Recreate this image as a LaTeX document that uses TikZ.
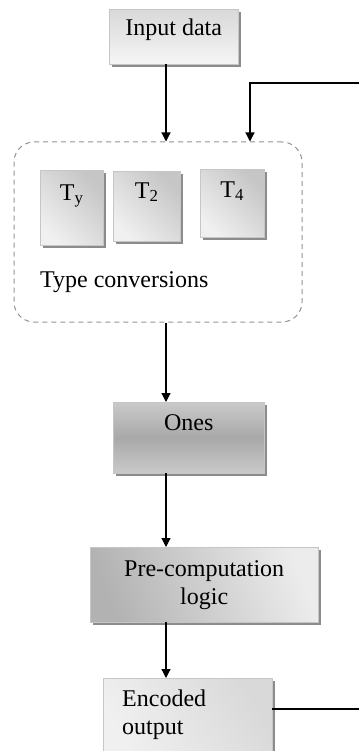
\documentclass[tikz,border=0pt]{standalone}
\usepackage{fontspec}
\setmainfont{Liberation Serif}
\usetikzlibrary{arrows.meta,shadows}
\tikzset{
  box/.style={draw=gray!45, line width=0.4pt, inner ysep=0pt, inner xsep=2pt,
    drop shadow={shadow xshift=2.5pt, shadow yshift=-2.5pt, fill=black!45, opacity=1}},
  arr/.style={line width=1.2pt, -{Triangle[width=9pt,length=9pt]}},
  plain/.style={line width=1.2pt},
  group/.style={draw=gray!85, dashed, dash pattern=on 5pt off 4pt, line width=1pt,
    rounded corners=20pt}
}
\begin{document}
\begin{tikzpicture}[x=1pt, y=-1pt, font=\fontsize{24}{28}\selectfont]
  \useasboundingbox (0,0) rectangle (359,751);
  \coordinate (spine) at (166,0);
  \coordinate (fb) at (250,83);
  \coordinate (edgetop) at (359,83);
  \coordinate (edgebot) at (359,709);

  \node (input) [box, anchor=north west, minimum width=129, text height=26, text depth=29,
    top color=gray!30, bottom color=gray!8] at (109,9) {Input data};

  \node (conv) [group, minimum width=288, minimum height=180] at (158,232) {};
  \node (ty) [box, anchor=north west, minimum width=63, text height=30, text depth=45,
    left color=gray!12, right color=gray!45, shading angle=135] at (40,170) {T\textsubscript{y}};
  \node (t2) [box, anchor=north west, minimum width=67, text height=27, text depth=43,
    left color=gray!12, right color=gray!45, shading angle=135] at (113,171) {T\textsubscript{2}};
  \node (t4) [box, anchor=north west, minimum width=64, text height=28, text depth=40,
    left color=gray!12, right color=gray!45, shading angle=135] at (200,169) {T\textsubscript{4}};
  \node (convlabel) [anchor=base west, inner sep=0pt] at (40,287) {Type conversions};

  \node (ones) [box, anchor=north west, minimum width=151, text height=28, text depth=43,
    top color=gray!42, bottom color=gray!42, middle color=gray!68] at (113,402) {Ones};

  \node (pre) [box, anchor=north west, minimum width=228, minimum height=75, align=center,
    left color=gray!60, right color=gray!15, shading angle=110] at (90,547)
    {Pre-computation\\logic};

  \node (enc) [box, anchor=north west, minimum height=74, inner xsep=19pt, text width=131pt,
    align=left, left color=gray!12, right color=gray!30, shading angle=120] at (103,678)
    {Encoded\\output};

  \draw[arr] (input.south -| spine) -- (conv.north -| spine);
  \draw[arr] (edgetop) -- (fb) -- (fb |- conv.north);
  \draw[arr] (conv.south -| spine) -- (ones.north -| spine);
  \draw[arr] (ones.south -| spine) -- (pre.north -| spine);
  \draw[arr] (pre.south -| spine) -- (enc.north -| spine);
  \draw[plain] (enc.east |- edgebot) -- (edgebot);
\end{tikzpicture}
\end{document}
